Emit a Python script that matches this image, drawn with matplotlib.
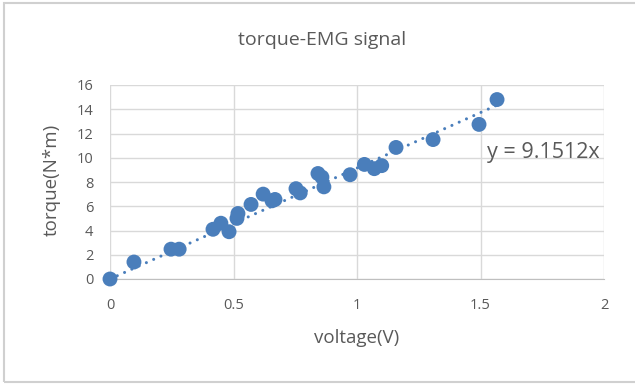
import numpy as np
import matplotlib.pyplot as plt
from matplotlib.patches import Rectangle

# measured voltage (V) and torque (N*m)
voltage = [0.0, 0.097, 0.247, 0.28, 0.417, 0.449, 0.482, 0.514, 0.518, 0.571,
           0.62, 0.656, 0.668, 0.753, 0.77, 0.842, 0.858, 0.866, 0.972, 1.03,
           1.07, 1.10, 1.158, 1.308, 1.494, 1.567]
torque = [0.0, 1.4, 2.46, 2.46, 4.1, 4.6, 3.9, 5.0, 5.4, 6.15,
          7.0, 6.45, 6.56, 7.45, 7.1, 8.7, 8.4, 7.6, 8.6, 9.45,
          9.1, 9.35, 10.85, 11.5, 12.75, 14.8]
slope = 9.1512

x_ticks = [0, 0.5, 1, 1.5, 2]
x_tick_labels = ["0", "0.5", "1", "1.5", "2"]
y_ticks = list(range(0, 17, 2))

text_color = "#595959"
grid_color = "#d9d9d9"
point_color = "#4a7ebb"

plt.rcParams['font.family'] = ['Open Sans', 'DejaVu Sans']

fig = plt.figure(figsize=(6.35, 3.85), dpi=100)
fig.patch.set_facecolor("white")

# chart frame
fig.patches.append(Rectangle((4 / 635, 3 / 385), 1.2, 1 - 6 / 385,
                             transform=fig.transFigure, fill=False,
                             edgecolor="#d0d0d0", linewidth=1.5))

ax = fig.add_axes([110 / 635, 1 - 279 / 385, 494 / 635, 194 / 385])
ax.set_xlim(0, 2)
ax.set_ylim(0, 16)
ax.set_xticks(x_ticks)
ax.set_xticklabels(x_tick_labels)
ax.set_yticks(y_ticks)
ax.grid(True, color=grid_color, linewidth=1)
ax.set_axisbelow(True)
for side in ["top", "right", "left"]:
    ax.spines[side].set_visible(False)
ax.spines["bottom"].set_color("#bfbfbf")
ax.tick_params(length=0, labelsize=10.5, colors=text_color)
ax.tick_params(axis="x", pad=14)
ax.tick_params(axis="y", pad=12)

# trendline through origin
xs = np.array([0, max(voltage)])
ax.plot(xs, slope * xs, linestyle=(0, (0.01, 2.6)), color=point_color,
        linewidth=2.2, dash_capstyle="round", zorder=2)

ax.scatter(voltage, torque, s=115, color=point_color, edgecolors="none",
           zorder=3, clip_on=False)

ax.text(1.525, 10.4, f"y = {slope:.4f}x", fontsize=15.5, color=text_color,
        va="center", ha="left")

fig.text(322 / 635, 1 - 40 / 385, "torque-EMG signal", fontsize=14,
         color=text_color, ha="center", va="center")

ax.set_xlabel("voltage(V)", fontsize=13.5, color=text_color, va="center")
ax.xaxis.set_label_coords(0.5, -0.304)
ax.set_ylabel("torque(N*m)", fontsize=13.5, color=text_color,
              va="center", ha="center")
ax.yaxis.set_label_coords(-0.117, 0.51)

fig.savefig("out.png", dpi=100, facecolor="white")
